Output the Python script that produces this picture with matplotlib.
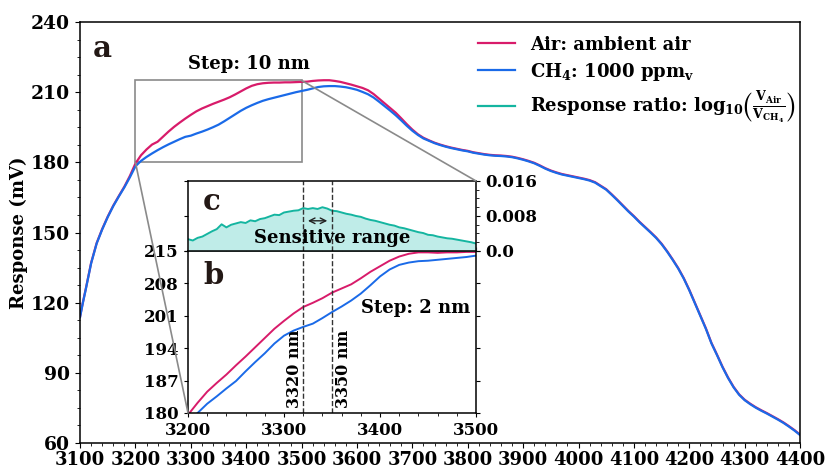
import numpy as np
import matplotlib
matplotlib.use('Agg')
import matplotlib.pyplot as plt
from matplotlib.patches import Rectangle, ConnectionPatch
from matplotlib.ticker import MultipleLocator

plt.rcParams['font.family'] = ['DejaVu Serif']
plt.rcParams['font.weight'] = 'bold'
plt.rcParams['mathtext.fontset'] = 'dejavuserif'
plt.rcParams['mathtext.default'] = 'bf'

# --- main spectrum, step 10 nm (panel a) ---
wl_main = [3100, 3105, 3110, 3120, 3130, 3140, 3150, 3160, 3170, 3180, 3190,
           3200, 3210, 3220, 3230, 3240, 3250, 3260, 3270, 3280, 3290,
           3300, 3310, 3320, 3330, 3340, 3350, 3360, 3370, 3380, 3390,
           3400, 3410, 3420, 3430, 3440, 3450, 3460, 3470, 3480, 3490,
           3500, 3510, 3520, 3530, 3540, 3550, 3560, 3570, 3580, 3590,
           3600, 3610, 3620, 3630, 3640, 3650, 3660, 3670, 3680, 3690,
           3700, 3710, 3720, 3730, 3740, 3750, 3760, 3770, 3780, 3790,
           3800, 3810, 3820, 3830, 3840, 3850, 3860, 3870, 3880, 3890,
           3900, 3910, 3920, 3930, 3940, 3950, 3960, 3970, 3980, 3990,
           4000, 4010, 4020, 4030, 4040, 4050, 4060, 4070, 4080, 4090,
           4100, 4110, 4120, 4130, 4140, 4150, 4160, 4170, 4180, 4190,
           4200, 4210, 4220, 4230, 4240, 4250, 4260, 4270, 4280, 4290,
           4300, 4310, 4320, 4330, 4340, 4350, 4360, 4370, 4380, 4390, 4400]
air_main = [114.0, 120.0, 125.5, 137.0, 145.5, 151.5, 156.8, 161.5, 165.6, 169.6, 174.2,
            179.5, 183.0, 185.5, 187.6, 188.8, 191.0, 193.2, 195.2, 197.0, 198.7,
            200.3, 201.8, 203.0, 204.0, 205.0, 205.9, 206.8, 207.8, 209.0, 210.3,
            211.6, 212.7, 213.4, 213.8, 214.0, 214.1, 214.1, 214.2, 214.2, 214.3,
            214.4, 214.5, 214.8, 215.0, 215.1, 215.1, 214.8, 214.4, 213.8, 213.2,
            212.5, 211.8, 210.8, 209.2, 207.2, 205.2, 203.2, 201.2, 198.8, 196.3,
            194.0, 192.0, 190.5, 189.4, 188.4, 187.6, 186.9, 186.3, 185.8, 185.3,
            184.9, 184.3, 183.9, 183.5, 183.2, 183.0, 182.9, 182.7, 182.4, 181.9,
            181.3, 180.6, 179.8, 178.7, 177.5, 176.5, 175.7, 175.0, 174.5, 174.0,
            173.5, 173.0, 172.4, 171.5, 170.0, 168.5, 166.3, 164.0, 161.6, 159.2,
            157.0, 154.6, 152.4, 150.2, 147.9, 145.2, 142.0, 138.5, 134.8, 130.5,
            125.5, 120.0, 114.5, 109.0, 102.8, 97.8, 92.6, 88.0, 84.0, 80.8,
            78.5, 76.8, 75.3, 74.0, 72.8, 71.5, 70.2, 68.8, 67.2, 65.5, 63.6]
ch4_main = [113.8, 119.8, 125.3, 136.8, 145.3, 151.3, 156.6, 161.3, 165.4, 169.3, 173.6,
            178.3, 180.6, 182.3, 183.8, 185.2, 186.5, 187.7, 188.8, 189.9, 190.9,
            191.4, 192.3, 193.1, 194.0, 195.0, 196.1, 197.5, 199.0, 200.5, 202.0,
            203.3, 204.4, 205.4, 206.3, 207.0, 207.6, 208.2, 208.8, 209.4, 210.0,
            210.5, 211.0, 211.6, 212.2, 212.5, 212.6, 212.6, 212.4, 212.1, 211.6,
            211.0, 210.1, 209.1, 207.7, 205.9, 204.0, 202.1, 200.1, 197.9, 195.6,
            193.5, 191.7, 190.2, 189.2, 188.2, 187.4, 186.7, 186.1, 185.6, 185.1,
            184.7, 184.1, 183.7, 183.3, 183.0, 182.8, 182.7, 182.5, 182.2, 181.7,
            181.1, 180.4, 179.6, 178.5, 177.3, 176.3, 175.5, 174.8, 174.3, 173.8,
            173.3, 172.8, 172.2, 171.3, 169.8, 168.3, 166.1, 163.8, 161.4, 159.0,
            156.8, 154.4, 152.2, 150.0, 147.7, 145.0, 141.8, 138.3, 134.6, 130.3,
            125.3, 119.8, 114.3, 108.8, 102.6, 97.6, 92.4, 87.8, 83.8, 80.6,
            78.3, 76.6, 75.1, 73.8, 72.6, 71.3, 70.0, 68.6, 67.0, 65.3, 63.4]

# --- zoomed spectrum, step 2 nm (panel b) ---
wl_b = [3200, 3210, 3220, 3230, 3240, 3250, 3260, 3270, 3280, 3290, 3300,
        3310, 3320, 3330, 3340, 3350, 3360, 3370, 3380, 3390, 3400,
        3410, 3420, 3430, 3440, 3450, 3460, 3470, 3480, 3490, 3500]
air_b = [179.6, 182.2, 184.6, 186.5, 188.3, 190.3, 192.2, 194.2, 196.2, 198.2, 199.9,
         201.5, 202.9, 203.8, 204.8, 206.0, 206.9, 207.8, 209.1, 210.5, 211.7,
         212.9, 213.8, 214.4, 214.7, 214.7, 214.6, 214.7, 214.7, 214.8, 214.8]
ch4_b = [177.8, 180.0, 182.0, 183.6, 185.3, 186.9, 189.0, 191.0, 192.9, 195.0, 196.7,
         197.8, 198.6, 199.3, 200.5, 201.8, 203.0, 204.3, 205.8, 207.6, 209.5,
         211.0, 212.0, 212.5, 212.8, 212.9, 213.1, 213.3, 213.5, 213.7, 214.0]

# --- response ratio (panel c) ---
wl_c = [3200, 3205, 3210, 3215, 3220, 3225, 3230, 3235, 3240, 3245, 3250,
        3255, 3260, 3265, 3270, 3275, 3280, 3285, 3290, 3295, 3300,
        3305, 3310, 3315, 3320, 3325, 3330, 3335, 3340, 3345, 3350,
        3355, 3360, 3365, 3370, 3375, 3380, 3385, 3390, 3395, 3400,
        3405, 3410, 3415, 3420, 3425, 3430, 3435, 3440, 3445, 3450,
        3455, 3460, 3465, 3470, 3475, 3480, 3485, 3490, 3495, 3500]
ratio_c = [0.0027, 0.0024, 0.0030, 0.0033, 0.0039, 0.0045, 0.0050, 0.0061, 0.0054, 0.0060, 0.0063,
           0.0066, 0.0064, 0.0070, 0.0068, 0.0073, 0.0075, 0.0079, 0.0083, 0.0082, 0.0088,
           0.0090, 0.0092, 0.0093, 0.0098, 0.0096, 0.0098, 0.0096, 0.0100, 0.0097, 0.0092,
           0.0091, 0.0088, 0.0085, 0.0083, 0.0080, 0.0078, 0.0074, 0.0071, 0.0069, 0.0066,
           0.0063, 0.0060, 0.0058, 0.0054, 0.0052, 0.0049, 0.0046, 0.0043, 0.0041, 0.0037,
           0.0036, 0.0033, 0.0031, 0.0029, 0.0028, 0.0026, 0.0024, 0.0022, 0.0020, 0.0017]

c_air = '#D81B6A'
c_ch4 = '#1A6AE8'
c_ratio = '#14B5A0'
c_fill = '#BFECE8'
c_letter = '#231815'

fig = plt.figure(figsize=(8.26, 4.76), dpi=100)
ax = fig.add_axes([0.0969, 0.0693, 0.8717, 0.8845])
axb = fig.add_axes([0.2276, 0.1324, 0.3487, 0.3403])
axc = fig.add_axes([0.2276, 0.4727, 0.3487, 0.1471])

# panel a
ax.plot(wl_main, air_main, color=c_air, lw=1.6, label='Air: ambient air')
ax.plot(wl_main, ch4_main, color=c_ch4, lw=1.6, label='CH$_4$: 1000 ppm$_\\mathrm{v}$')
ax.plot([], [], color=c_ratio, lw=1.6,
        label='Response ratio: log$_{10}\\left(\\frac{V_{Air}}{V_{CH_4}}\\right)$')
ax.set_xlim(3100, 4400)
ax.set_ylim(60, 240)
ax.xaxis.set_major_locator(MultipleLocator(100))
ax.xaxis.set_minor_locator(MultipleLocator(20))
ax.yaxis.set_major_locator(MultipleLocator(30))
ax.yaxis.set_minor_locator(MultipleLocator(7.5))
ax.tick_params(which='both', direction='out', labelsize=13.5)
ax.tick_params(axis='x', labelsize=13)
ax.tick_params(which='major', length=3.6)
ax.tick_params(which='minor', length=2)
ax.tick_params(axis='x', which='major', pad=2.5)
ax.set_ylabel('Response (mV)', fontsize=13, fontweight='bold', labelpad=2)
ax.text(0.018, 0.938, 'a', transform=ax.transAxes, fontsize=21,
        color=c_letter, ha='left', va='center')
ax.text(3405, 222, 'Step: 10 nm', fontsize=13, ha='center', va='center')
ax.legend(loc='upper left', bbox_to_anchor=(0.542, 0.985), frameon=False,
          fontsize=13, handlelength=2.1, handletextpad=0.8, labelspacing=0.4,
          borderaxespad=0)

ax.add_patch(Rectangle((3200, 180), 300, 35, fill=False, edgecolor='#8a8a8a', lw=1.2))

# panel b
axb.plot(wl_b, air_b, color=c_air, lw=1.4)
axb.plot(wl_b, ch4_b, color=c_ch4, lw=1.4)
axb.set_xlim(3200, 3500)
axb.set_ylim(180, 215)
axb.set_yticks([180, 187, 194, 201, 208, 215])
axb.xaxis.set_major_locator(MultipleLocator(100))
axb.xaxis.set_minor_locator(MultipleLocator(20))
axb.tick_params(which='both', direction='out', top=True, right=True,
                labeltop=False, labelright=False, labelsize=12)
axb.tick_params(which='major', length=3.2)
axb.tick_params(which='minor', length=2)
for xv in [3320, 3350]:
    axb.axvline(xv, color='#333333', ls='--', lw=1)
axb.text(3311, 189.5, '3320 nm', rotation=90, ha='center', va='center', fontsize=11.5)
axb.text(3362, 189.5, '3350 nm', rotation=90, ha='center', va='center', fontsize=11.5)
axb.text(3437, 202.7, 'Step: 2 nm', ha='center', va='center', fontsize=13)
axb.text(0.052, 0.85, 'b', transform=axb.transAxes, fontsize=21,
         color=c_letter, ha='left', va='center')

# panel c
axc.plot(wl_c, ratio_c, color=c_ratio, lw=1.4)
axc.fill_between(wl_c, ratio_c, 0, color=c_fill, lw=0)
axc.set_xlim(3200, 3500)
axc.set_ylim(0, 0.016)
axc.set_yticks([0.0, 0.008, 0.016])
axc.set_yticklabels(['0.0', '0.008', '0.016'])
axc.yaxis.set_minor_locator(MultipleLocator(0.002))
axc.tick_params(axis='x', which='both', bottom=False, labelbottom=False)
axc.tick_params(axis='y', which='both', direction='out', left=True, right=True,
                labelleft=False, labelright=True, labelsize=12)
axc.tick_params(axis='y', which='major', length=3.2)
axc.tick_params(axis='y', which='minor', length=2, left=False)
for xv in [3320, 3350]:
    axc.axvline(xv, color='#333333', ls='--', lw=1)
axc.annotate('', xy=(3348, 0.0069), xytext=(3322, 0.0069),
             arrowprops=dict(arrowstyle='<->', color='#222222', lw=1))
axc.text(3350, 0.0030, 'Sensitive range', ha='center', va='center', fontsize=13)
axc.text(0.052, 0.70, 'c', transform=axc.transAxes, fontsize=21,
         color=c_letter, ha='left', va='center')

for a in (ax, axb, axc):
    for s in a.spines.values():
        s.set_linewidth(1.1)

# zoom connectors
con1 = ConnectionPatch(xyA=(3200, 180), coordsA=ax.transData,
                       xyB=(3200, 180), coordsB=axb.transData,
                       color='#8a8a8a', lw=1.2)
con2 = ConnectionPatch(xyA=(3500, 215), coordsA=ax.transData,
                       xyB=(1, 1), coordsB=axc.transAxes,
                       color='#8a8a8a', lw=1.2)
fig.add_artist(con1)
fig.add_artist(con2)

fig.savefig('out.png', dpi=100)
